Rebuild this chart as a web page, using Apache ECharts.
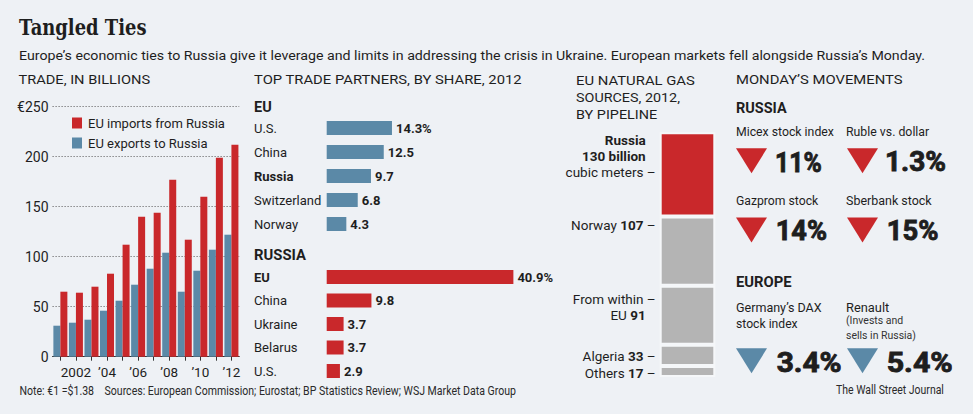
<!DOCTYPE html>
<html><head><meta charset="utf-8">
<script src="https://cdn.jsdelivr.net/npm/echarts@6/dist/echarts.min.js"></script>
<style>html,body{margin:0;padding:0;background:#eef1f5}#c{width:973px;height:414px}</style>
</head><body><div id="c"></div>
<script>
// ---------- DATA ----------
const years = ['2001','2002','2003','2004','2005','2006','2007','2008','2009','2010','2011','2012'];
const euImports = [65, 64, 70, 83, 112, 140, 144, 177, 117, 160, 199, 212];
const euExports = [31, 34, 37, 46, 56, 72, 88, 104, 65, 86, 107, 122];
const tradeTicks = [0, 50, 100, 150, 200, 250];

const euPartners = ['U.S.', 'China', 'Russia', 'Switzerland', 'Norway'];
const euShares = [14.3, 12.5, 9.7, 6.8, 4.3];
const ruPartners = ['EU', 'China', 'Ukraine', 'Belarus', 'U.S.'];
const ruShares = [40.9, 9.8, 3.7, 3.7, 2.9];

const gasSources = ['Russia', 'Norway', 'From within EU', 'Algeria', 'Others'];
const gasVolumes = [130, 107, 91, 33, 17];

const ruMoveLabels = ['Micex stock index', 'Ruble vs. dollar', 'Gazprom stock', 'Sberbank stock'];
const ruMoveValues = [11, 1.3, 14, 15];
const euMoveValues = [3.4, 5.4];

// ---------- STYLE ----------
const BG = '#eef1f5', RED = '#c9282b', BLUE = '#5b89a7', GRAY = '#b4b4b4', INK = '#1e1e1e';
const FAM = 'Roboto';

const mctx = document.createElement('canvas').getContext('2d');
function mw(text, font) { mctx.font = font; return mctx.measureText(text).width; }
function T(x, y, text, o) {
  o = o || {};
  const size = o.size || 13, weight = o.weight || 'normal', fam = o.family || FAM;
  const font = weight + ' ' + size + 'px "' + fam + '"';
  const sx = o.w ? o.w / mw(text, font) : 1;
  const style = { text: text, fontSize: size, fontWeight: weight, fontFamily: fam,
      fill: o.color || INK, align: 'left', verticalAlign: 'middle' };
  if (o.stroke) { style.stroke = o.color || INK; style.lineWidth = o.stroke; }
  return { type: 'text', x: x, y: y, scaleX: sx, silent: true, style: style };
}
function tri(x, y, color) {
  return { type: 'polygon', silent: true, shape: { points: [[x, y], [x + 31, y], [x + 15.5, y + 25]] },
    style: { fill: color } };
}
const pct = v => v + '%';
const BIG = w => ({ size: 28, weight: 'bold', w: w, stroke: 0.9 });

const graphics = [
  T(19, 27.5, 'Tangled Ties', { size: 22, weight: 'bold', family: 'DejaVu Serif', w: 127.7 }),
  T(19, 55, 'Europe\u2019s economic ties to Russia give it leverage and limits in addressing the crisis in Ukraine. European markets fell alongside Russia\u2019s Monday.', { size: 13.5, w: 907 }),
  T(18.5, 79, 'TRADE, IN BILLIONS', { size: 13.5, w: 131.7 }),
  T(254, 79, 'TOP TRADE PARTNERS, BY SHARE, 2012', { size: 13.5, w: 268 }),
  T(576, 80, 'EU NATURAL GAS', { size: 13.5, w: 119 }),
  T(576, 97.3, 'SOURCES, 2012,', { size: 13.5, w: 104 }),
  T(576, 114.3, 'BY PIPELINE', { size: 13.5, w: 81.3 }),
  T(736, 79, 'MONDAY\u2019S MOVEMENTS', { size: 13.5, w: 166.7 }),
  T(254, 107, 'EU', { size: 14, weight: 'bold', w: 17.7 }),
  T(254, 255.7, 'RUSSIA', { size: 14, weight: 'bold', w: 52 }),
  // Monday's movements
  T(736, 107.7, 'RUSSIA', { size: 14, weight: 'bold', w: 50.7 }),
  T(736, 131.7, ruMoveLabels[0], { size: 13.5, w: 98 }),
  T(846, 131.7, ruMoveLabels[1], { size: 13.5, w: 83.3 }),
  T(736, 200.7, ruMoveLabels[2], { size: 13.5, w: 82.3 }),
  T(846, 200.7, ruMoveLabels[3], { size: 13.5, w: 85.7 }),
  tri(736, 148.3, RED), tri(847, 148.3, RED),
  tri(736, 217.5, RED), tri(847, 217.5, RED),
  T(775, 161.7, pct(ruMoveValues[0]), BIG(46.7)),
  T(885, 161.7, pct(ruMoveValues[1]), BIG(61)),
  T(775.7, 230.7, pct(ruMoveValues[2]), BIG(51.3)),
  T(886.7, 230.7, pct(ruMoveValues[3]), BIG(51.7)),
  T(736, 282.3, 'EUROPE', { size: 14, weight: 'bold', w: 55.7 }),
  T(736, 307.3, 'Germany\u2019s DAX', { size: 13.5, w: 85.7 }),
  T(736, 323.3, 'stock index', { size: 13.5, w: 61.7 }),
  T(846, 307.3, 'Renault', { size: 13.5, w: 43.3 }),
  T(846, 320.5, '(Invests and', { size: 11.5, w: 57.3, color: '#333' }),
  T(846, 335, 'sells in Russia)', { size: 11.5, w: 70, color: '#333' }),
  tri(736, 348.3, BLUE), tri(847, 348.3, BLUE),
  T(776.7, 362.7, pct(euMoveValues[0]), BIG(65)),
  T(886.7, 362.7, pct(euMoveValues[1]), BIG(66)),
  // footer
  T(19.5, 391, 'Note: \u20ac1 =$1.38    Sources: European Commission; Eurostat; BP Statistics Review; WSJ Market Data Group', { size: 12, w: 496.5, color: '#2a2a2a' }),
  T(836, 390.7, 'The Wall Street Journal', { size: 12, w: 108, color: '#2a2a2a' })
];

// ---------- GAS LABELS ----------
const gasRich = {
  b: { fontFamily: FAM, fontSize: 13.5, fontWeight: 'bold', color: INK, lineHeight: 16 },
  n: { fontFamily: FAM, fontSize: 13.5, color: INK, lineHeight: 16 },
  s: { fontFamily: FAM, fontSize: 13.5, width: 10, lineHeight: 16 }
};
const gasLabelText = [
  '{b|' + gasSources[0] + '}{s| }\n{b|' + gasVolumes[0] + ' billion}{s| }\n{n|cubic meters \u2013}',
  '{n|' + gasSources[1] + ' }{b|' + gasVolumes[1] + '}{n| \u2013}',
  '{n|From within \u2013}\n{n|EU }{b|' + gasVolumes[2] + '}{s| }',
  '{n|' + gasSources[3] + ' }{b|' + gasVolumes[3] + '}{n| \u2013}',
  '{n|' + gasSources[4] + ' }{b|' + gasVolumes[4] + '}{n| \u2013}'
];
const gasOffsets = [-18.5, -26, -8, 1, 2];
const gasColors = [RED, GRAY, GRAY, GRAY, GRAY];
const gasSeries = gasSources.map((name, i) => ({
  type: 'bar', name: name, stack: 'gas', xAxisIndex: 3, yAxisIndex: 3,
  data: [gasVolumes[i]], barWidth: '100%',
  itemStyle: { color: gasColors[i], borderColor: '#f5f7f9', borderWidth: 2 },
  label: { show: true, position: 'left', distance: 4, offset: [0, gasOffsets[i]],
    formatter: gasLabelText[i], rich: gasRich, align: 'right' },
  silent: true
}));

// ---------- PARTNER AXES ----------
function partnerYAxis(gridIndex, cats, bold) {
  return { type: 'category', gridIndex: gridIndex, data: cats, inverse: true,
    axisLine: { show: false }, axisTick: { show: false },
    axisLabel: { align: 'left', margin: 72.7, fontFamily: FAM, fontSize: 13, color: INK,
      formatter: v => v === bold ? '{b|' + v + '}' : v,
      rich: { b: { fontFamily: FAM, fontSize: 13, fontWeight: 'bold', color: INK } } } };
}
function partnerSeries(idx, data, color) {
  return { type: 'bar', xAxisIndex: idx, yAxisIndex: idx, data: data, barWidth: 14,
    itemStyle: { color: color }, silent: true,
    label: { show: true, position: 'right', distance: 4, fontFamily: FAM, fontSize: 13,
      fontWeight: 'bold', color: INK,
      formatter: p => p.dataIndex === 0 ? p.value + '%' : String(p.value) } };
}
const partnerX = idx => ({ type: 'value', gridIndex: idx, min: 0, max: 45, show: false });

const option = {
  backgroundColor: BG,
  animation: false,
  textStyle: { fontFamily: FAM },
  grid: [
    { left: 52.6, top: 106.7, width: 186.6, height: 250 },
    { left: 326.7, top: 116, width: 205.4, height: 120 },
    { left: 326.7, top: 265.25, width: 205.4, height: 117.5 },
    { left: 659.7, top: 132.3, width: 55.6, height: 244.7 }
  ],
  legend: {
    data: ['EU imports from Russia', 'EU exports to Russia'],
    orient: 'vertical', left: 72, top: 116.5, icon: 'rect', itemWidth: 10, itemHeight: 11,
    itemGap: 7, padding: 0, selectedMode: false,
    textStyle: { fontFamily: FAM, fontSize: 13, color: INK, padding: [0, 0, 0, 1] }
  },
  xAxis: [
    { type: 'category', gridIndex: 0, data: years,
      axisLine: { lineStyle: { color: '#333', width: 1.2 } },
      axisTick: { show: true, alignWithLabel: true, interval: 0, length: 4, lineStyle: { color: '#333' } },
      axisLabel: { interval: i => i % 2 === 1, margin: 8, fontFamily: FAM, fontSize: 13.5, color: INK,
        formatter: v => v === '2002' ? v : '\u2019' + v.slice(2) } },
    partnerX(1), partnerX(2),
    { type: 'category', gridIndex: 3, data: ['gas'], show: false }
  ],
  yAxis: [
    { type: 'value', gridIndex: 0, min: tradeTicks[0], max: tradeTicks[tradeTicks.length - 1], interval: 50,
      axisLine: { show: false }, axisTick: { show: false },
      axisLabel: { margin: 4, fontFamily: FAM, fontSize: 14, color: INK,
        formatter: v => v === 250 ? '\u20ac250' : String(v) },
      splitLine: { show: true, lineStyle: { type: [1, 2], color: '#555', width: 1 } } },
    partnerYAxis(1, euPartners, 'Russia'),
    partnerYAxis(2, ruPartners, 'EU'),
    { type: 'value', gridIndex: 3, min: 0, max: 378, inverse: true, show: false }
  ],
  series: [
    { type: 'bar', name: 'EU exports to Russia', data: euExports, xAxisIndex: 0, yAxisIndex: 0,
      barWidth: 7, barGap: '0%', itemStyle: { color: BLUE }, silent: true },
    { type: 'bar', name: 'EU imports from Russia', data: euImports, xAxisIndex: 0, yAxisIndex: 0,
      barWidth: 7, barGap: '0%', itemStyle: { color: RED }, silent: true },
    partnerSeries(1, euShares, BLUE),
    partnerSeries(2, ruShares, RED)
  ].concat(gasSeries),
  graphic: graphics
};
const chart = echarts.init(document.getElementById('c'), null, { renderer: 'svg' });
chart.setOption(option);
</script></body></html>
